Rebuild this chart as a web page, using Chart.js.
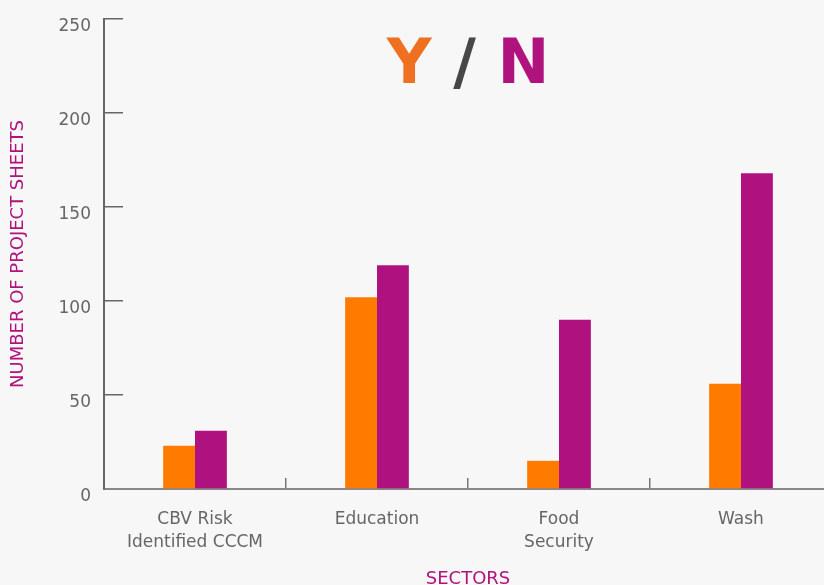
<!DOCTYPE html>
<html>
<head>
<meta charset="utf-8">
<script src="https://cdn.jsdelivr.net/npm/chart.js@4/dist/chart.umd.min.js"></script>
<style>
  html, body { margin: 0; padding: 0; background: #f7f7f7; }
  #wrap { width: 824px; height: 585px; overflow: hidden; position: relative; }
  #myChart { display: block; }
</style>
</head>
<body>
<div id="wrap"><canvas id="myChart" width="840" height="592"></canvas></div>
<script>
// sectors on the x axis
const sectors = [['CBV Risk', 'Identified CCCM'], 'Education', ['Food', 'Security'], 'Wash'];

// number of project sheets, Y and N answers
const yes_values = [23, 102, 15, 56];
const no_values = [31, 119, 90, 168];

const y_ticks = [0, 50, 100, 150, 200, 250];

const orange = '#ff7b00';
const purple = '#af127e';
const label_font = '"DejaVu Sans", "Noto Sans", sans-serif';

// big "Y / N" heading, three colours, so drawn by hand
const ynTitle = {
    id: 'ynTitle',
    afterDraw(chart)
    {
        const ctx = chart.ctx;
        const parts = [['Y', '#f07022'], [' / ', '#474747'], ['N', '#b0127e']];
        ctx.save();
        ctx.font = 'bold 62px "DejaVu Sans", sans-serif';
        ctx.textBaseline = 'alphabetic';
        ctx.textAlign = 'left';
        let total = 0;
        for (let i = 0; i < parts.length; i += 1) {
            total += ctx.measureText(parts[i][0]).width;
        }
        const area = chart.chartArea;
        let x = (area.left + area.right) / 2 - total / 2;
        for (let i = 0; i < parts.length; i += 1) {
            ctx.fillStyle = parts[i][1];
            ctx.fillText(parts[i][0], x, 83);
            x += ctx.measureText(parts[i][0]).width;
        }
        ctx.restore();
    }
};

const ctx = document.getElementById('myChart').getContext('2d');
const myChart = new Chart(ctx, {
    type: 'bar',
    data: {
        labels: sectors,
        datasets: [
            {
                label: 'Y',
                data: yes_values,
                backgroundColor: orange,
                categoryPercentage: 0.35,
                barPercentage: 1.0
            },
            {
                label: 'N',
                data: no_values,
                backgroundColor: purple,
                categoryPercentage: 0.35,
                barPercentage: 1.0
            }
        ]
    },
    options: {
        responsive: false,
        animation: false,
        layout: {
            padding: { left: 0, right: 8, top: 19, bottom: 0 }
        },
        plugins: {
            legend: { display: false },
            tooltip: { enabled: false }
        },
        scales: {
            x: {
                grid: {
                    offset: true,
                    drawOnChartArea: false,
                    drawTicks: true,
                    tickLength: -11,
                    color: '#777',
                    lineWidth: 1.5
                },
                border: { color: '#888', width: 2 },
                ticks: {
                    color: '#666',
                    font: { family: label_font, size: 17, lineHeight: 1.3 },
                    padding: 31,
                    maxRotation: 0,
                    autoSkip: false
                },
                title: {
                    display: true,
                    text: 'SECTORS',
                    color: '#b0127e',
                    font: { family: label_font, size: 18 },
                    padding: { top: 0, bottom: 2 }
                },
                afterFit: function (scale) {
                    scale.height = 103;
                    scale.paddingLeft = 0;
                    scale.paddingRight = 0;
                }
            },
            y: {
                min: 0,
                max: 250,
                afterBuildTicks: function (scale) {
                    scale.ticks = y_ticks.map(function (v) { return { value: v }; });
                },
                grid: {
                    drawOnChartArea: false,
                    drawTicks: true,
                    tickLength: -19,
                    color: '#666',
                    lineWidth: 1.5
                },
                border: { color: '#666', width: 2 },
                ticks: {
                    color: '#666',
                    font: { family: label_font, size: 17 },
                    padding: 32,
                    labelOffset: 8
                },
                title: {
                    display: true,
                    text: 'NUMBER OF PROJECT SHEETS',
                    color: '#b0127e',
                    font: { family: label_font, size: 18 },
                    padding: { top: 8, bottom: 0 }
                },
                afterFit: function (scale) {
                    scale.width = 104;
                    scale.paddingTop = 0;
                    scale.paddingBottom = 0;
                }
            }
        }
    },
    plugins: [ynTitle]
});
</script>
</body>
</html>
